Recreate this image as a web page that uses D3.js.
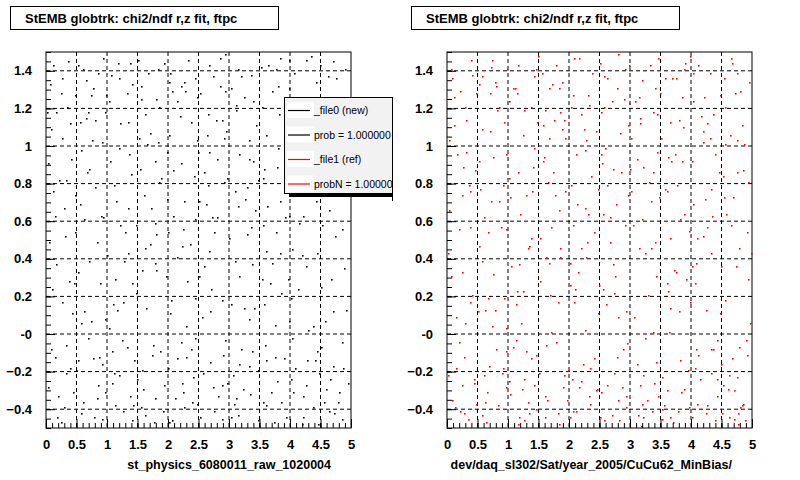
<!DOCTYPE html><html><head><meta charset="utf-8">
<script src="https://cdn.jsdelivr.net/npm/d3@7"></script>
<style>body{margin:0;background:#fff}svg{font-family:Arial,"Liberation Sans",sans-serif}</style></head><body>
<svg id="c" width="800" height="480"></svg>
<script>
const titles=["StEMB globtrk: chi2/ndf r,z fit, ftpc","StEMB globtrk: chi2/ndf r,z fit, ftpc"];
const xTitles=["st_physics_6080011_raw_1020004","dev/daq_sl302/Sat/year_2005/CuCu62_MinBias/"];
const xTicks=[0,0.5,1,1.5,2,2.5,3,3.5,4,4.5,5];
const yTicks=[-0.4,-0.2,0,0.2,0.4,0.6,0.8,1,1.2,1.4];
const legendLabels=["_file0 (new)","prob = 1.000000","_file1 (ref)","probN = 1.000000"];
const legendColors=["#000","#000","#f00","#f00"];
// points as x*100,y*100 pairs (approximate)
const newPts="12,143 35,121 58,98 77,131 94,62 118,144 139,85 163,117 181,34 204,139 226,71 248,126 269,12 291,104 314,141 336,57 358,88 381,132 402,19 427,113 449,77 471,145 15,-12 37,28 61,-36 83,49 104,3 127,-41 148,22 172,67 193,-27 215,41 237,-8 259,86 282,-33 303,16 326,72 348,-19 371,38 393,-44 414,59 437,4 459,-29 481,93 8,109 29,67 52,143 74,7 96,118 119,-22 141,133 162,46 184,102 207,-46 228,129 251,31 273,137 294,-3 317,96 339,124 361,-38 384,71 406,139 428,-14 451,108 474,52 22,82 44,-31 66,115 89,27 111,79 133,-7 156,125 178,59 200,-18 222,91 245,136 267,44 289,-45 311,119 333,8 356,83 378,-25 399,146 422,63 444,-9 467,121 489,35 5,49 27,136 49,-19 71,88 93,147 116,13 138,-33 160,74 183,141 205,18 227,-39 249,97 272,62 294,129 316,-16 338,37 360,106 383,147 405,-31 427,84 450,25 472,-42 18,-44 41,93 63,12 85,-27 107,138 130,54 152,104 174,-11 197,31 219,116 241,-23 263,69 286,147 308,-37 330,53 352,142 375,5 397,99 419,-48 442,134 464,66 486,-4 10,24 32,-6 55,69 78,-44 100,42 122,112 145,-14 167,139 189,83 211,-34 233,146 256,9 278,114 300,51 323,-29 345,111 367,27 390,-13 412,122 434,89 456,-36 479,118 24,128 47,54 69,-2 91,102 113,-38 136,96 158,34 180,125 202,-47 225,56 247,103 269,-15 292,81 314,-43 336,138 359,-6 381,99 403,45 426,146 448,-21 470,79 492,13 3,-28 26,104 48,127 70,39 92,-16 115,71 137,144 159,-29 181,53 204,11 226,134 248,-37 271,24 293,149 315,68 337,-9 360,44 382,117 404,-2 427,36 449,143 471,-17 14,63 36,145 58,-42 80,78 103,124 125,-3 147,58 170,107 192,-41 214,124 236,48 258,-21 281,93 303,131 325,14 347,-46 370,129 392,62 414,101 437,-39 459,113 481,-31 20,-33 43,11 65,135 87,-12 110,16 132,128 154,88 177,-47 199,72 221,-4 243,84 266,117 288,-27 310,39 332,93 355,-36 377,54 399,131 422,-44 444,43 466,-24 489,74 7,133 30,-39 52,33 74,127 97,-31 119,99 141,-46 164,14 186,121 208,63 230,-12 253,128 275,-41 297,83 319,-8 342,66 364,143 386,22 409,-18 431,124 453,58 476,136 33,82 57,6 81,114 109,-26 128,39 151,146 176,-6 199,97 223,47 239,-36 264,106 285,132 307,-22 329,78 354,121 374,-47 396,29 418,79 441,-14 462,137 485,-45 16,118 40,-18 62,61 86,139 108,-9 134,67 155,-39 179,92 201,134 224,-31 244,19 268,143 290,-11 312,122 334,-32 357,16 379,89 401,-24 424,109 446,-48 468,29 490,141 4,91 26,17 47,74 69,118 91,-45 113,29 135,113 157,-19 179,38 201,106 223,-26 245,61 267,97 289,18 311,-34 333,103 355,58 377,141 399,7 421,-33 443,71 465,98 487,-18 9,-8 31,52 53,-14 75,103 97,8 119,136 141,27 163,-43 185,81 207,129 229,4 251,71 273,-28 295,108 317,31 339,92 361,-14 383,43 405,113 427,-27 449,99 471,12 493,117 17,37 39,112 61,141 83,-34 105,92 127,17 149,-24 171,48 193,144 215,-13 237,113 259,36 281,62 303,-44 325,126 347,82 369,-31 391,84 413,24 435,148 457,7 479,-36 2,118 24,-47 46,27 68,86 90,63 112,-21 134,43 156,132 178,-34 200,54 222,132 244,-2 266,79 288,114 310,76 332,-17 354,29 376,-12 398,63 420,42 442,116 464,-41 486,56 11,76 33,-21 55,113 77,-13 99,127 121,58 143,-38 165,101 187,-9 209,87 231,28 253,-44 275,54 297,-26 319,137 341,14 363,68 385,-36 407,93 429,2 451,-7 473,93 495,-26";
const refPts="9,136 31,114 54,77 72,142 97,56 114,128 143,99 167,131 186,41 209,147 231,64 252,118 273,22 296,111 319,135 341,49 363,94 385,126 407,27 431,104 453,84 476,139 19,-4 41,21 66,-31 88,57 109,-7 132,-36 153,28 177,74 198,-19 219,46 241,-13 263,79 287,-28 307,9 331,81 352,-23 376,33 397,-39 419,52 442,-3 463,-22 485,87 4,103 24,74 57,137 79,13 101,124 123,-29 146,141 167,38 189,109 212,-41 233,122 256,24 278,131 299,4 321,89 344,117 366,-44 389,64 411,143 433,-8 456,101 478,46 27,89 48,-37 71,108 93,19 116,86 138,-13 161,119 183,66 205,-24 227,98 250,144 272,37 294,-39 316,112 338,1 361,76 383,-31 404,139 427,57 449,-16 472,128 494,29 2,43 22,129 44,-26 76,94 98,141 121,6 143,-27 165,81 188,134 210,24 232,-33 254,91 277,69 299,123 321,-22 343,31 365,113 388,141 410,-37 432,77 455,18 477,-48 13,-39 46,87 68,19 90,-21 112,131 135,47 157,111 179,-4 202,38 224,109 246,-29 268,62 291,141 313,-43 335,46 357,136 380,12 402,92 424,-42 447,127 469,73 491,-11 6,31 28,-12 60,62 83,-38 105,36 127,119 150,-21 172,133 194,76 216,-28 238,139 261,16 283,107 305,58 328,-35 350,104 372,34 395,-19 417,116 439,96 461,-29 484,111 29,121 52,47 74,4 96,96 118,-44 141,89 163,41 185,118 207,-41 230,49 252,96 274,-21 297,74 319,-37 341,131 364,1 386,92 408,38 431,139 453,-27 475,86 497,6 1,-22 31,97 53,133 75,32 97,-9 120,64 142,137 164,-35 186,46 209,17 231,127 253,-31 276,31 298,143 320,61 342,-15 365,51 387,110 409,-8 432,43 454,136 476,-23 19,56 41,138 63,-36 85,71 108,131 130,-9 152,51 175,114 197,-35 219,117 241,54 263,-27 286,86 308,124 330,21 352,-40 375,136 397,55 419,108 442,-33 464,106 486,-37 25,-27 38,17 70,128 92,-18 115,23 137,121 159,94 182,-42 204,79 226,2 248,77 271,124 293,-33 315,46 337,86 360,-30 382,61 404,124 427,-38 449,36 471,-30 494,81 12,126 35,-45 57,39 79,134 102,-25 124,106 146,-40 169,21 191,114 213,69 235,-18 258,121 280,-35 302,76 324,-2 347,73 369,136 391,29 414,-24 436,117 458,64 481,129 38,76 62,13 86,121 104,-32 133,46 156,139 171,1 194,104 228,41 244,-30 259,99 290,125 312,-16 334,71 349,128 379,-41 401,36 423,72 436,-8 467,144 480,-39 11,111 45,-24 67,54 81,132 113,-3 129,74 160,-33 174,86 206,127 219,-25 249,26 263,136 295,-5 317,115 339,-26 362,23 374,96 406,-18 419,102 451,-42 473,36 495,134 15,9 39,146 64,-47 96,3 126,-46 149,148 184,-48 217,147 257,-46 281,149 318,-49 346,147 371,-47 399,148 439,-46 466,147 21,-41 58,-43 117,-48 202,-44 282,-46 353,-45 462,-44 488,-46 477,-42 483,-38 3,66 25,33 47,128 69,-17 91,79 113,16 135,-42 157,92 179,143 201,26 223,-16 245,108 267,49 289,-8 311,93 333,143 355,-38 377,79 399,17 421,126 443,-24 465,58 487,101 8,-35 30,6 52,92 74,146 96,-28 118,37 140,76 162,-6 184,131 206,58 228,103 250,-44 272,88 294,12 316,-27 338,118 360,27 382,-14 404,69 426,112 448,11 470,-45 492,54 16,96 38,57 60,-22 82,119 104,73 126,-24 148,113 170,57 192,-22 214,33 236,84 258,137 280,9 302,104 324,43 346,-33 368,92 390,144 412,-11 434,63 456,121 478,-7 6,141 28,-42 50,12 72,71 94,113 116,143 138,51 160,-44 182,17 204,121 226,67 248,11 270,-43 292,58 314,126 336,-41 358,77 380,114 402,-44 424,13 446,86 468,-13 490,-3 14,-18 36,79 58,109 80,-8 102,83 124,23 146,-11 168,104 190,-28 212,96 234,-37 256,64 278,-12 300,88 322,-44 344,97 366,14 388,-29 410,51 432,-21 454,73 476,103 498,43";
function parse(s){return s.split(" ").map(p=>{const [a,b]=p.split(",").map(Number);return [a/100,b/100];});}
const series=[parse(newPts),parse(refPts)];
const colors=["#000","#f00"];
const svg=d3.select("#c");
const panelX=[46,447];
panelX.forEach((x0,i)=>{
  const w=305,top=52,h=376;
  const x=d3.scaleLinear().domain([0,5]).range([x0,x0+w]);
  const y=d3.scaleLinear().domain([-0.5,1.5]).range([top+h,top]);
  const g=svg.append("g");
  g.append("rect").attr("x",x0).attr("y",top).attr("width",w).attr("height",h).attr("fill","#fff").attr("stroke","#000");
  xTicks.slice(1,-1).forEach(t=>g.append("line").attr("x1",x(t)).attr("x2",x(t)).attr("y1",top).attr("y2",top+h).attr("stroke","#000").attr("stroke-dasharray","4,3"));
  yTicks.forEach(t=>g.append("line").attr("x1",x0).attr("x2",x0+w).attr("y1",y(t)).attr("y2",y(t)).attr("stroke","#000").attr("stroke-dasharray","4,3"));
  g.selectAll("rect.p").data(series[i]).enter().append("rect").attr("x",d=>Math.round(x(d[0]))).attr("y",d=>Math.round(y(d[1]))).attr("width",1.6).attr("height",1.6).attr("fill",colors[i]);
  const xa=g.append("g").attr("transform",`translate(0,${top+h})`).call(d3.axisBottom(x).tickValues(xTicks).tickSize(-9).tickFormat(d3.format("")).tickPadding(12));
  const xm=g.append("g").attr("transform",`translate(0,${top+h})`).call(d3.axisBottom(x).ticks(50).tickSize(-5).tickFormat(""));
  const ya=g.append("g").attr("transform",`translate(${x0},0)`).call(d3.axisLeft(y).tickValues(yTicks).tickSize(-9).tickPadding(14).tickFormat(d=>Math.abs(d)<1e-9?"-0":d3.format("")(+d.toFixed(1))));
  const ym=g.append("g").attr("transform",`translate(${x0},0)`).call(d3.axisLeft(y).tickValues(d3.range(-0.5,1.5001,0.05)).tickSize(-5).tickFormat(""));
  [xa,xm,ya,ym].forEach(a=>{a.select(".domain").remove();a.selectAll("line").attr("stroke","#000");a.selectAll("text").attr("font-size",13).attr("font-weight","bold").attr("fill","#000");});
  const tx=x0-36;
  g.append("rect").attr("x",tx+0.5).attr("y",6.5).attr("width",268).attr("height",23).attr("fill","#fff").attr("stroke","#000");
  g.append("text").attr("x",tx+15).attr("y",23).attr("font-size",13).attr("font-weight","bold").text(titles[i]);
  g.append("text").attr("x",x0+w-20).attr("y",469).attr("text-anchor","end").attr("font-size",12.5).attr("font-weight","bold").text(xTitles[i]);
});
const lg=svg.append("g");
const cp=lg.append("clipPath").attr("id","lc");cp.append("rect").attr("x",0).attr("y",0).attr("width",392).attr("height",480);
const L=lg.append("g").attr("clip-path","url(#lc)");
L.append("rect").attr("x",289).attr("y",101).attr("width",110).attr("height",96).attr("fill","#000");
L.append("rect").attr("x",284.5).attr("y",97.5).attr("width",110).attr("height",96).attr("fill","#f2f2f2").attr("stroke","#000");
legendLabels.forEach((t,k)=>{
  const yy=110+k*24.5;
  L.append("rect").attr("x",287).attr("y",yy-8).attr("width",27).attr("height",16).attr("fill","#fff");
  L.append("line").attr("x1",288).attr("x2",310).attr("y1",yy+0.5).attr("y2",yy+0.5).attr("stroke",legendColors[k]).attr("stroke-width",1.2);
  L.append("text").attr("x",314).attr("y",yy+4).attr("font-size",10.5).text(t);
});
lg.append("line").attr("x1",392.5).attr("x2",392.5).attr("y1",97).attr("y2",201).attr("stroke","#000");
</script></body></html>
